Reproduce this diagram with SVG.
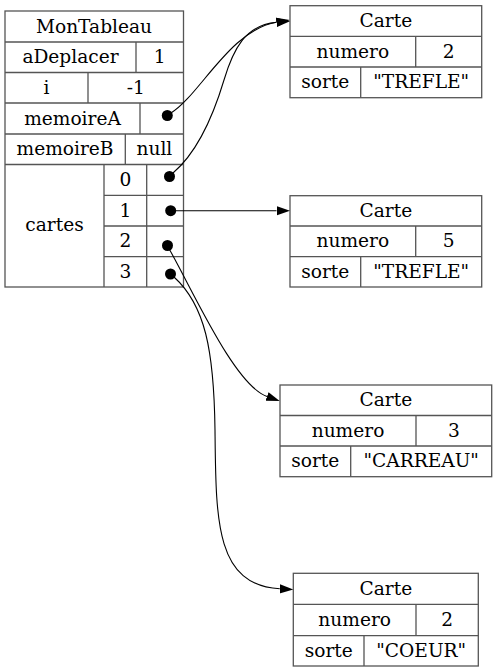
<svg xmlns="http://www.w3.org/2000/svg" width="497" height="672" viewBox="0 0 497 672">
<style>
.box{fill:#fff;stroke:#555;stroke-width:1.3}
.div{stroke:#555;stroke-width:1.3;fill:none}
text{font-family:"DejaVu Serif","Liberation Serif",serif;font-size:18.6px;text-anchor:middle;fill:#000}
.edge{fill:none;stroke:#000;stroke-width:1.1}
.dot{fill:#000}
</style>
<defs>
<marker id="arr" markerUnits="userSpaceOnUse" markerWidth="16" markerHeight="12" refX="0" refY="5" orient="auto" viewBox="0 0 16 10">
<path d="M0,0.4 L13.5,5 L0,9.6 Z" fill="#000"/>
</marker>
</defs>
<rect width="497" height="672" fill="#fff"/>
<g id="MonTableau">
<rect class="box" x="5" y="11" width="178.5" height="276"/>
<path class="div" d="M5,42 H183.5 M5,72.5 H183.5 M5,103 H183.5 M5,134 H183.5 M5,164.5 H183.5 M104,195.3 H183.5 M104,226 H183.5 M104,256.7 H183.5 M136,42 V72.5 M88,72.5 V103 M140,103 V134 M125.3,134 V164.5 M104,164.5 V287 M146.7,164.5 V287"/>
<text x="94" y="32.5">MonTableau</text>
<text x="70.5" y="63">aDeplacer</text>
<text x="159.7" y="63">1</text>
<text x="46.5" y="93.5">i</text>
<text x="135.7" y="93.5">-1</text>
<text x="72.5" y="124.5">memoireA</text>
<text x="65" y="155">memoireB</text>
<text x="154.4" y="155">null</text>
<text x="54.5" y="231">cartes</text>
<text x="125.3" y="186">0</text>
<text x="125.3" y="216.7">1</text>
<text x="125.3" y="247.3">2</text>
<text x="125.3" y="278">3</text>
</g>
<g id="carte1">
<rect class="box" x="290" y="5.7" width="191.7" height="92"/>
<path class="div" d="M290,36.3 H481.7 M290,67 H481.7 M415.7,36.3 V67 M360.7,67 V97.7"/>
<text x="385.8" y="27">Carte</text>
<text x="352.8" y="57.5">numero</text>
<text x="448.7" y="57.5">2</text>
<text x="325.3" y="88.3">sorte</text>
<text x="421.2" y="88.3">"TREFLE"</text>
</g>
<g id="carte2">
<rect class="box" x="290" y="195.7" width="191.7" height="91.3"/>
<path class="div" d="M290,226 H481.7 M290,256.7 H481.7 M415.7,226 V256.7 M360.7,256.7 V287"/>
<text x="385.8" y="217">Carte</text>
<text x="352.8" y="247.3">numero</text>
<text x="448.7" y="247.3">5</text>
<text x="325.3" y="277.8">sorte</text>
<text x="421.2" y="277.8">"TREFLE"</text>
</g>
<g id="carte3">
<rect class="box" x="280" y="385" width="211.7" height="91.7"/>
<path class="div" d="M280,415.5 H491.7 M280,446 H491.7 M416,415.5 V446 M350.7,446 V476.7"/>
<text x="385.8" y="406">Carte</text>
<text x="348" y="436.7">numero</text>
<text x="453.8" y="436.7">3</text>
<text x="315.3" y="467.3">sorte</text>
<text x="421.2" y="467.3">"CARREAU"</text>
</g>
<g id="carte4">
<rect class="box" x="293.3" y="573.3" width="185" height="92.7"/>
<path class="div" d="M293.3,604.3 H478.3 M293.3,635.7 H478.3 M416,604.3 V635.7 M364,635.7 V666"/>
<text x="385.8" y="594.8">Carte</text>
<text x="354.7" y="626">numero</text>
<text x="447.2" y="626">2</text>
<text x="328.7" y="656.8">sorte</text>
<text x="421.2" y="656.8">"COEUR"</text>
</g>
<g id="connectors">
<circle class="dot" cx="167.3" cy="115.5" r="5.5"/>
<circle class="dot" cx="169.5" cy="176.5" r="5.5"/>
<circle class="dot" cx="170.7" cy="210.7" r="5.5"/>
<circle class="dot" cx="167.5" cy="245.5" r="5.5"/>
<circle class="dot" cx="170.5" cy="274" r="5.5"/>
<path class="edge" marker-end="url(#arr)" d="M171,113 C200,95 230,30 276.5,22.3"/>
<path class="edge" marker-end="url(#arr)" d="M173,173 C200,150 215,110 224,80 C233,50 245,25 276.5,22.3"/>
<path class="edge" marker-end="url(#arr)" d="M175,210.7 L276.5,210.7"/>
<path class="edge" marker-end="url(#arr)" d="M169.5,249.5 C195,295 235,385 267,396.5"/>
<path class="edge" marker-end="url(#arr)" d="M174,277 C205,305 214,350 215,430 C216,520 215,585 279.8,588.8"/>
</g>
</svg>
